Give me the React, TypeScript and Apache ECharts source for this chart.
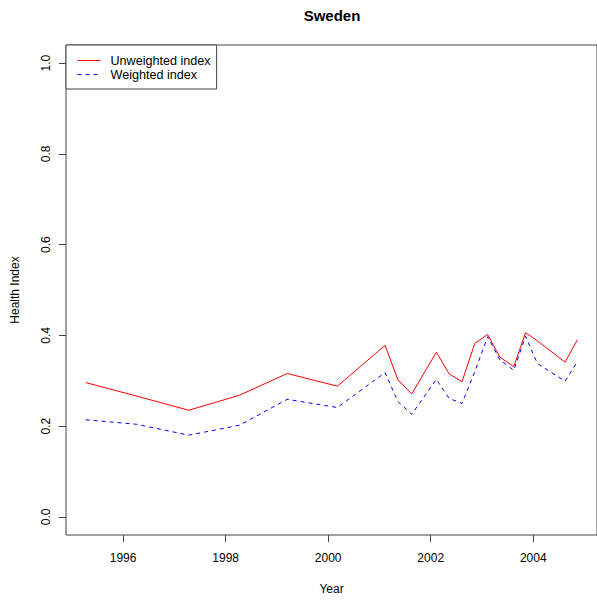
import React, { useEffect, useRef } from "react";
import * as echarts from "echarts";

// Survey dates (decimal years) and the two health index series
const years = [
  1995.27, 1996.27, 1997.28, 1998.27, 1999.2, 2000.18, 2001.11, 2001.36, 2001.63, 2002.11,
  2002.36, 2002.61, 2002.86, 2003.11, 2003.35, 2003.62, 2003.85, 2004.08, 2004.62, 2004.86,
];
const unweighted = [
  0.296, 0.266, 0.235, 0.268, 0.316, 0.288, 0.378, 0.302, 0.271, 0.363,
  0.315, 0.298, 0.382, 0.402, 0.352, 0.331, 0.406, 0.388, 0.341, 0.39,
];
const weighted = [
  0.214, 0.204, 0.18, 0.202, 0.259, 0.241, 0.318, 0.254, 0.226, 0.303,
  0.261, 0.25, 0.32, 0.397, 0.346, 0.323, 0.398, 0.338, 0.299, 0.342,
];
const xTicks = [1996, 1998, 2000, 2002, 2004];
const yTicks = [0, 0.2, 0.4, 0.6, 0.8, 1.0];

const FONT = "Liberation Sans, Arial, Helvetica, sans-serif";
const AXIS = "#444";

export default function App() {
  const ref = useRef<HTMLDivElement>(null);

  useEffect(() => {
    if (!ref.current) return;
    const chart = echarts.init(ref.current, undefined, { renderer: "svg" });

    const pairs = (ys: number[]) => years.map((x, i) => [x, ys[i]]);
    const span = years[years.length - 1] - years[0];
    const xMin = years[0] - span * 0.04;
    const xMax = years[years.length - 1] + span * 0.04;

    chart.setOption({
      animation: false,
      backgroundColor: "#ffffff",
      textStyle: { fontFamily: FONT },
      title: {
        text: "Sweden",
        left: 332,
        top: 8,
        padding: 0,
        textAlign: "center",
        textStyle: { fontSize: 15, fontWeight: "bold", color: "#000", fontFamily: FONT },
      },
      legend: {
        orient: "vertical",
        left: 66,
        top: 45,
        padding: [9, 6, 8, 11],
        itemWidth: 23,
        itemHeight: 14,
        itemGap: 1,
        borderColor: AXIS,
        borderWidth: 1,
        backgroundColor: "#fff",
        itemStyle: { opacity: 0 },
        lineStyle: { width: 1 },
        textStyle: { fontSize: 12.6, color: "#000", fontFamily: FONT, padding: [0, 0, 0, 5] },
        data: ["Unweighted index", "Weighted index"],
      },
      grid: {
        left: 66,
        top: 45,
        bottom: 66,
        right: -2,
        show: true,
        borderColor: AXIS,
        borderWidth: 1,
        backgroundColor: "transparent",
      },
      xAxis: {
        type: "value",
        min: xMin,
        max: xMax,
        name: "Year",
        nameLocation: "middle",
        nameGap: 48,
        nameTextStyle: { fontSize: 12, color: "#000", fontFamily: FONT },
        axisLine: { show: false, onZero: false },
        splitLine: { show: false },
        axisTick: { show: true, length: 7, lineStyle: { color: AXIS }, customValues: xTicks },
        axisLabel: {
          fontSize: 12,
          color: "#000",
          margin: 17,
          fontFamily: FONT,
          customValues: xTicks,
          formatter: (v: number) => String(Math.round(v)),
        },
      },
      yAxis: {
        type: "value",
        min: -0.04,
        max: 1.04,
        name: "Health Index",
        nameLocation: "middle",
        nameRotate: 90,
        nameGap: 45,
        nameTextStyle: { fontSize: 12, color: "#000", fontFamily: FONT },
        axisLine: { show: false, onZero: false },
        splitLine: { show: false },
        axisTick: { show: true, length: 7, lineStyle: { color: AXIS }, customValues: yTicks },
        axisLabel: {
          fontSize: 12,
          color: "#000",
          rotate: 90,
          margin: 14,
          fontFamily: FONT,
          customValues: yTicks,
          formatter: (v: number) => v.toFixed(1),
        },
      },
      series: [
        {
          name: "Unweighted index",
          type: "line",
          data: pairs(unweighted),
          symbol: "none",
          color: "#ff0000",
          lineStyle: { color: "#ff0000", width: 1 },
        },
        {
          name: "Weighted index",
          type: "line",
          data: pairs(weighted),
          symbol: "none",
          color: "#0000ff",
          lineStyle: { color: "#0000ff", width: 1, type: [4, 4] },
        },
      ],
    });

    return () => chart.dispose();
  }, []);

  return (
    <div
      ref={ref}
      style={{ position: "fixed", left: 0, top: 0, width: 597, height: 601 }}
    />
  );
}
